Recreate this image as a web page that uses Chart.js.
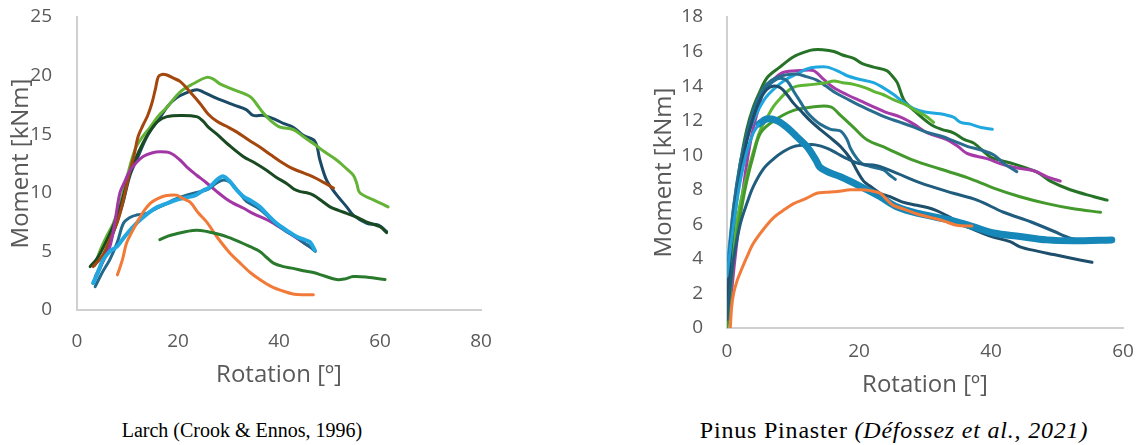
<!DOCTYPE html>
<html>
<head>
<meta charset="utf-8">
<script src="https://cdn.jsdelivr.net/npm/chart.js@4.4.1/dist/chart.umd.min.js"></script>
<style>
  html, body { margin:0; padding:0; background:#fff; width:1142px; height:445px; overflow:hidden; }
  .box { position:absolute; }
  .cap { position:absolute; font-family:"Liberation Serif","Times New Roman",serif; color:#000; white-space:nowrap; transform:translate(-50%,-50%); }
</style>
</head>
<body>
<div class="box" style="left:0;top:0;width:500px;height:400px;"><canvas id="c1"></canvas></div>
<div class="box" style="left:600px;top:0;width:542px;height:400px;"><canvas id="c2"></canvas></div>
<div class="cap" style="left:242px;top:430px;font-size:20px;">Larch (Crook &amp; Ennos, 1996)</div>
<div class="cap" style="left:894px;top:430px;font-size:24px;letter-spacing:0.8px;">Pinus Pinaster <i>(Défossez et al., 2021)</i></div>
<script>
// ---------- Larch (Crook & Ennos, 1996): [rotation °, moment kNm] ----------
const larchXTicks = [0, 20, 40, 60, 80];
const larchYTicks = [0, 5, 10, 15, 20, 25];
const larchBrown = [[3.2,3.7],[5,4.6],[6.5,6],[8,7.5],[9.2,9.4],[10.5,11.9],[11.3,13.2],[12.1,14.8],[13.1,15.8],[14,16.6],[14.8,17.6],[15.5,18.8],[16.1,19.9],[16.8,20.1],[17.8,20.05],[19,19.8],[20.4,19.5],[22.4,18.6],[24.4,17.6],[26,16.7],[27.7,16.1],[29.5,15.7],[31.6,15.2],[34,14.5],[36.2,13.9],[38.5,13.2],[40.9,12.5],[42.5,12.1],[44.2,11.8],[46,11.5],[47.5,11.2],[49.2,10.8],[50.8,10.4]];
const larchLightGreen = [[3.5,3.8],[4.6,5.1],[6,6.4],[7.2,7.4],[8.5,9],[10,11.5],[11.5,13.7],[13,14.8],[14.5,15.6],[16,16.5],[17.8,17.3],[20.4,18.6],[23,19.3],[25.7,19.85],[27,19.7],[28.3,19.3],[31,18.8],[34.3,18.2],[35.5,17.6],[36.9,16.8],[38.5,16.1],[40.2,15.6],[42.8,15.4],[44.8,14.8],[46.8,14.2],[49,13.5],[51.4,12.8],[53,12.2],[54.7,11.5],[55.4,10.8],[56,10.0],[58.7,9.4],[61.6,8.8]];
const larchNavy = [[3.2,2.3],[4.5,3.5],[6,5.2],[7.5,7],[9,9],[10.5,11.5],[12,13],[14,14.9],[16.4,16.4],[18,17.4],[19.7,18.1],[21.5,18.5],[23.7,18.8],[25,18.6],[27.7,18.05],[31,17.5],[33.5,17.1],[34.9,16.6],[37,16.6],[39.5,16.2],[41,15.9],[42.8,15.6],[44.8,14.9],[47.1,14.4],[48.1,12.8],[49.4,11.1],[51.1,10],[53.4,8.8],[54.7,8.1],[57.4,7.4],[59.7,7.25],[61.3,6.7]];
const larchDarkGreen = [[2.6,3.7],[4,4.4],[5.5,5.6],[7,7],[8.5,8.7],[10,11],[11.5,12.8],[13,14.2],[14.5,15.3],[16,16.1],[17.8,16.5],[20.4,16.6],[23.7,16.5],[25,16.1],[26,15.6],[27.7,15],[30,14.1],[32.9,13.1],[35,12.6],[37.6,11.9],[39.5,11.3],[41.5,10.8],[43,10.3],[44.2,10.1],[45.5,10],[46.8,9.8],[48.5,9.3],[50.1,8.8],[51.8,8.5],[53.4,8.25],[55.5,7.9],[57.4,7.5],[60,7.1],[61.3,6.6]];
const larchMagenta = [[3.6,2.85],[5,4],[6.5,5.4],[7.5,7.5],[8.5,10],[9.5,11],[10.5,11.9],[11.8,12.6],[13.1,13.1],[14.8,13.4],[16.4,13.5],[18.4,13.4],[20.4,12.8],[22,12.1],[23.7,11.5],[25.5,10.9],[27.7,10.1],[29.5,9.5],[31,9.1],[32.9,8.7],[35,8.2],[37.6,7.7],[40,7.1],[42.2,6.5],[44,6],[46.1,5.4]];
const larchTeal = [[3.6,2.0],[5,3.2],[6.5,4.3],[8,5.8],[9.2,7.4],[10.5,7.9],[11.8,8.1],[13.8,8.25],[15.8,8.7],[17.5,9.0],[19.1,9.4],[21.7,9.8],[24.4,10.1],[26,10.3],[27.5,10.8],[29,11.1],[30.3,10.9],[32,10.1],[33.5,9.3],[36.2,8.6],[38,7.9],[39.5,7.3],[41.5,6.7],[43.5,6.2],[45,5.7],[46.1,5.4],[47.2,5.0]];
const larchLightBlue = [[3.2,2.3],[4.2,3.3],[5.2,4.3],[6.5,5.0],[7.9,5.4],[9.5,6.3],[11.1,7.1],[12.8,7.8],[14.5,8.4],[16,8.8],[17.8,9.1],[19.7,9.4],[21.7,9.6],[23.5,9.8],[25,10.2],[26,10.4],[27,10.8],[28,11.2],[29,11.4],[30.3,10.95],[31.5,10.3],[32.9,9.7],[34.5,9.3],[36.2,8.8],[37.8,8.1],[39.5,7.4],[41.5,6.8],[43.5,6.25],[45,6.0],[46.1,5.8],[47.1,5.1]];
const larchOrange = [[8,3.0],[9,4.3],[9.8,5.7],[10.8,6.6],[11.8,7.4],[13,8.3],[14.5,9.1],[16,9.5],[17.5,9.75],[19.7,9.8],[21,9.5],[22.4,9.2],[24,8.3],[25.7,7.5],[27.7,6.25],[30,5.0],[32.3,4.0],[34.3,3.2],[36.2,2.6],[38.5,2.0],[40.9,1.6],[43,1.35],[45,1.3],[46.8,1.3]];
const larchMidGreen = [[16.4,6.0],[18,6.3],[19.7,6.5],[21.7,6.7],[23.7,6.8],[25.7,6.7],[27.7,6.5],[30,6.2],[32.3,5.8],[34.3,5.4],[36.2,5.0],[37.5,4.5],[38.9,4.0],[40.9,3.7],[42.8,3.55],[44.8,3.35],[46.8,3.2],[49,2.9],[51.4,2.6],[53,2.65],[54.7,2.85],[57.5,2.8],[61,2.6]];

// ---------- Pinus Pinaster (Défossez et al., 2021) ----------
const pinusXTicks = [0, 20, 40, 60];
const pinusYTicks = [0, 2, 4, 6, 8, 10, 12, 14, 16, 18];
const pinusDarkGreen = [[0,2.8],[0.5,5],[1,6.5],[1.5,8],[2,9.5],[3,11.5],[4,12.8],[5,13.7],[6.1,14.5],[8,15.1],[10.1,15.7],[12,16],[13.1,16.1],[14.5,16.1],[16.2,16.0],[17.5,15.8],[19.2,15.6],[20.5,15.3],[22.2,15.1],[24.2,14.9],[25,14.6],[25.8,14.2],[26.8,13.2],[28.3,12.6],[30.8,11.8],[32.5,11.5],[34.3,11.3],[36,10.9],[37.4,10.7],[39.9,9.9],[41.5,9.7],[43.4,9.5],[46.5,9.1],[47.5,8.9],[49,8.5],[52,8.0],[55.6,7.6],[57.6,7.4]];
const pinusLightBlue = [[0,3.5],[1,7],[2,9.5],[3,11],[4,12],[5,12.8],[6,13.4],[7.6,14.0],[9,14.4],[10.6,14.7],[12.1,15.0],[13.6,15.1],[15.2,15.1],[17.2,14.8],[18.2,14.6],[20,14.4],[22.2,14.2],[23.7,13.9],[25.3,13.5],[26.3,13.2],[28.3,12.7],[30,12.5],[32.3,12.4],[34.3,12.2],[35.4,11.9],[36.9,11.8],[38.5,11.6],[40.2,11.5]];
const pinusMagenta = [[0.4,0.5],[0.8,2.5],[1.5,5],[2.5,8.2],[3.2,10],[4,11.6],[5,13],[5.6,13.8],[7.1,14.4],[8.6,14.8],[11.1,14.9],[13.1,14.9],[14.6,14.4],[16.2,13.9],[18.2,13.5],[20.5,13.1],[22.2,12.8],[24,12.5],[26.3,12.2],[28.3,11.8],[30.3,11.3],[33.3,10.9],[35,10.5],[36.4,10.1],[39.4,9.8],[41.5,9.5],[43.4,9.3],[46.5,9.1],[48.5,8.75],[50.5,8.5]];
const pinusLightGreen = [[0,1.5],[0.5,3.5],[1,5],[2,7.2],[3,8.8],[4,10.2],[5,11.4],[6.1,12.2],[7,12.8],[8.1,13.3],[9.5,13.8],[10.6,14.0],[13.1,14.1],[15,14.2],[16.2,14.3],[17.5,14.2],[19.2,14.1],[21,13.9],[22.2,13.7],[23.7,13.5],[25.3,13.2],[27.2,12.9],[28.5,12.6],[30,12.3],[31.3,11.9]];
const pinusMidGreen = [[0,0],[0.5,2],[1,4],[2,6.5],[3,8.5],[4,10],[5.1,11.3],[7.1,12],[10.1,12.6],[13.1,12.8],[15.7,12.8],[17.2,12.3],[19.2,11.6],[21.2,10.9],[24.2,10.4],[28.3,9.7],[32.3,9.2],[36.4,8.7],[40.4,8.1],[44.4,7.6],[48.5,7.2],[52.5,6.9],[56.6,6.7]];
const pinusTealC = [[0,2.5],[0.5,5],[1,7],[2,9.5],[3,11.2],[4,12.6],[5,13.5],[6,14.1],[7.5,14.5],[9,14.65],[10.5,14.7],[12,14.55],[13.6,14.35],[15,14.0],[16.5,13.6],[18,13.3],[20,12.9],[21.7,12.6],[24,12.2],[26.3,11.9],[28.5,11.6],[30.5,11.3],[32.5,11.1],[34.5,10.8],[36.5,10.5],[38.5,10.3],[40.5,10.0],[42,9.5],[43.9,9.05]];
const pinusTeal1 = [[0,2],[0.5,4.5],[1,6.5],[2,9],[3,11],[4,12.5],[5,13.4],[6,13.9],[7.1,14.3],[8.1,14.45],[9.1,14.3],[10.1,13.7],[11.1,13.1],[12.1,12.5],[13.1,12.1],[14.1,11.8],[15.7,11.5],[17.2,11.4],[18.2,10.9],[18.7,10.4],[19.7,9.8],[20.5,9.5],[21.7,9.35],[23.7,9.15],[24.5,8.9],[25.5,8.6]];
const pinusNavy2 = [[0,1],[0.5,4],[1,6],[2,8.8],[3,10.8],[4,12.2],[5,13.2],[6,13.8],[7.1,14.0],[8.1,13.9],[9.1,13.5],[10.1,13],[11.1,12.6],[12.6,12],[14.1,11.5],[15.7,11.0],[17.2,10.5],[18.7,9.8],[19.7,9.1],[20.7,8.5],[21.7,8.2],[23.2,7.8],[24.7,7.6],[26.5,7.3],[28.8,7.1],[31,6.9],[32.3,6.7],[33.8,6.4],[35.5,6.0],[37.4,5.7],[40,5.3],[42.9,5.0],[44.4,4.7],[47,4.45],[49.5,4.25],[52,4.05],[55.3,3.8]];
const pinusNavy1 = [[0,0.5],[0.5,2.5],[1,4],[2,6],[3,7.2],[4,8.2],[5.5,9.2],[7.1,9.8],[8.5,10.2],[10.1,10.5],[12.1,10.6],[13.4,10.6],[15.2,10.4],[16.7,10.1],[18.2,9.8],[20.2,9.5],[22.7,9.4],[25.8,8.95],[29.3,8.4],[34.3,7.8],[37.9,7.4],[41.9,6.7],[46,6.15],[49.5,5.6],[52,5.2],[54.5,5.0],[56.8,5.0]];
const pinusBlueRise = [[0,3],[1,6],[2,8.5],[3,10.2],[4,11.3],[4.8,11.8]];
const pinusThickBlue = [[4.8,11.8],[6,12.1],[7.6,12.0],[9.1,11.6],[10.5,11.1],[12.1,10.5],[13.5,9.7],[14.1,9.3],[15.5,9.0],[17.2,8.75],[20.2,8.2],[23.2,7.6],[25.8,7.0],[29.3,6.6],[34.3,6.2],[37.4,5.85],[40.4,5.5],[44.4,5.3],[48.5,5.1],[52.5,5.05],[58.3,5.1]];
const pinusOrange = [[0.5,0],[0.7,1.2],[1,2.0],[1.5,2.7],[2,3.2],[3,4.1],[4,4.9],[5.5,5.7],[7.1,6.4],[8.5,6.8],[10.1,7.2],[12,7.5],[13.6,7.8],[15,7.85],[16.7,7.9],[18.7,8.0],[20.2,8.0],[21.7,7.95],[23.2,7.8],[24.3,7.4],[25.2,7.1],[27,6.85],[28.8,6.6],[30.8,6.4],[32.8,6.2],[34.8,5.95],[37.1,5.9]];

// ---------- helpers ----------
const TICK_FONT = { family: "'Open Sans', 'Liberation Sans', sans-serif", size: 19 };
const TITLE_FONT = { family: "'Open Sans', 'Liberation Sans', sans-serif", size: 24 };
const GREY = '#595959';
const AXIS = '#d0d0d0';

function ds(points, color, width) {
  return {
    data: points.map(p => ({ x: p[0], y: p[1] })),
    borderColor: color, backgroundColor: color,
    borderWidth: width || 3, pointRadius: 0, tension: 0.35,
    fill: false, borderCapStyle: 'round', borderJoinStyle: 'round'
  };
}

function makeChart(id, datasets, xTicks, yTicks, cfg) {
  return new Chart(document.getElementById(id), {
    type: 'line',
    data: { datasets },
    options: {
      responsive: true, maintainAspectRatio: false, animation: false,
      layout: { padding: { top: 17, right: cfg.padRight, bottom: 0, left: 0 } },
      plugins: { legend: { display: false }, tooltip: { enabled: false } },
      scales: {
        x: {
          type: 'linear', min: xTicks[0], max: xTicks[xTicks.length - 1],
          afterBuildTicks: s => { s.ticks = xTicks.map(v => ({ value: v })); },
          afterFit: s => { s.height = cfg.xHeight; s.paddingLeft = 0; s.paddingRight = 0; },
          grid: { display: false, drawTicks: false },
          border: { display: true, color: AXIS, width: 2 },
          ticks: { color: GREY, font: TICK_FONT, padding: cfg.xTickPad, maxRotation: 0 },
          title: { display: true, text: 'Rotation [º]', color: GREY, font: TITLE_FONT, padding: { top: 0, bottom: cfg.xTitlePad } }
        },
        y: {
          type: 'linear', min: yTicks[0], max: yTicks[yTicks.length - 1],
          afterBuildTicks: s => { s.ticks = yTicks.map(v => ({ value: v })); },
          afterFit: s => { s.width = cfg.yWidth; s.paddingTop = 0; s.paddingBottom = 0; },
          grid: { display: false, drawTicks: false },
          border: { display: true, color: AXIS, width: 2 },
          ticks: { color: GREY, font: TICK_FONT, padding: cfg.yTickPad },
          title: { display: true, text: 'Moment [kNm]', color: GREY, font: TITLE_FONT, padding: { top: cfg.yTitlePad, bottom: 0 } }
        }
      }
    }
  });
}

// datasets listed first are drawn on top
makeChart('c1', [
  ds(larchMidGreen, '#2a7a2e'),
  ds(larchOrange, '#f27a38'),
  ds(larchLightBlue, '#22a7e0', 4),
  ds(larchTeal, '#23698c'),
  ds(larchMagenta, '#a236a5'),
  ds(larchBrown, '#a3470e'),
  ds(larchDarkGreen, '#1a4a22'),
  ds(larchLightGreen, '#62b336'),
  ds(larchNavy, '#1b4a66')
], larchXTicks, larchYTicks, { padRight: 19, xHeight: 90, yWidth: 77, xTickPad: 20, xTitlePad: 10, yTickPad: 25, yTitlePad: 7 });

makeChart('c2', [
  ds(pinusOrange, '#f27b3a'),
  ds(pinusBlueRise, '#1fa0d8'),
  ds(pinusThickBlue, '#1587b8', 7),
  ds(pinusNavy1, '#1f5c7e'),
  ds(pinusNavy2, '#1d4e6b'),
  ds(pinusTeal1, '#246e92'),
  ds(pinusMidGreen, '#43992b'),
  ds(pinusLightGreen, '#5db533'),
  ds(pinusTealC, '#2a6c8e'),
  ds(pinusLightBlue, '#1fa8e0'),
  ds(pinusMagenta, '#a53aa8'),
  ds(pinusDarkGreen, '#267327')
], pinusXTicks, pinusYTicks, { padRight: 19, xHeight: 72, yWidth: 127, xTickPad: 12, xTitlePad: 0, yTickPad: 24, yTitlePad: 50 });
</script>
</body>
</html>
